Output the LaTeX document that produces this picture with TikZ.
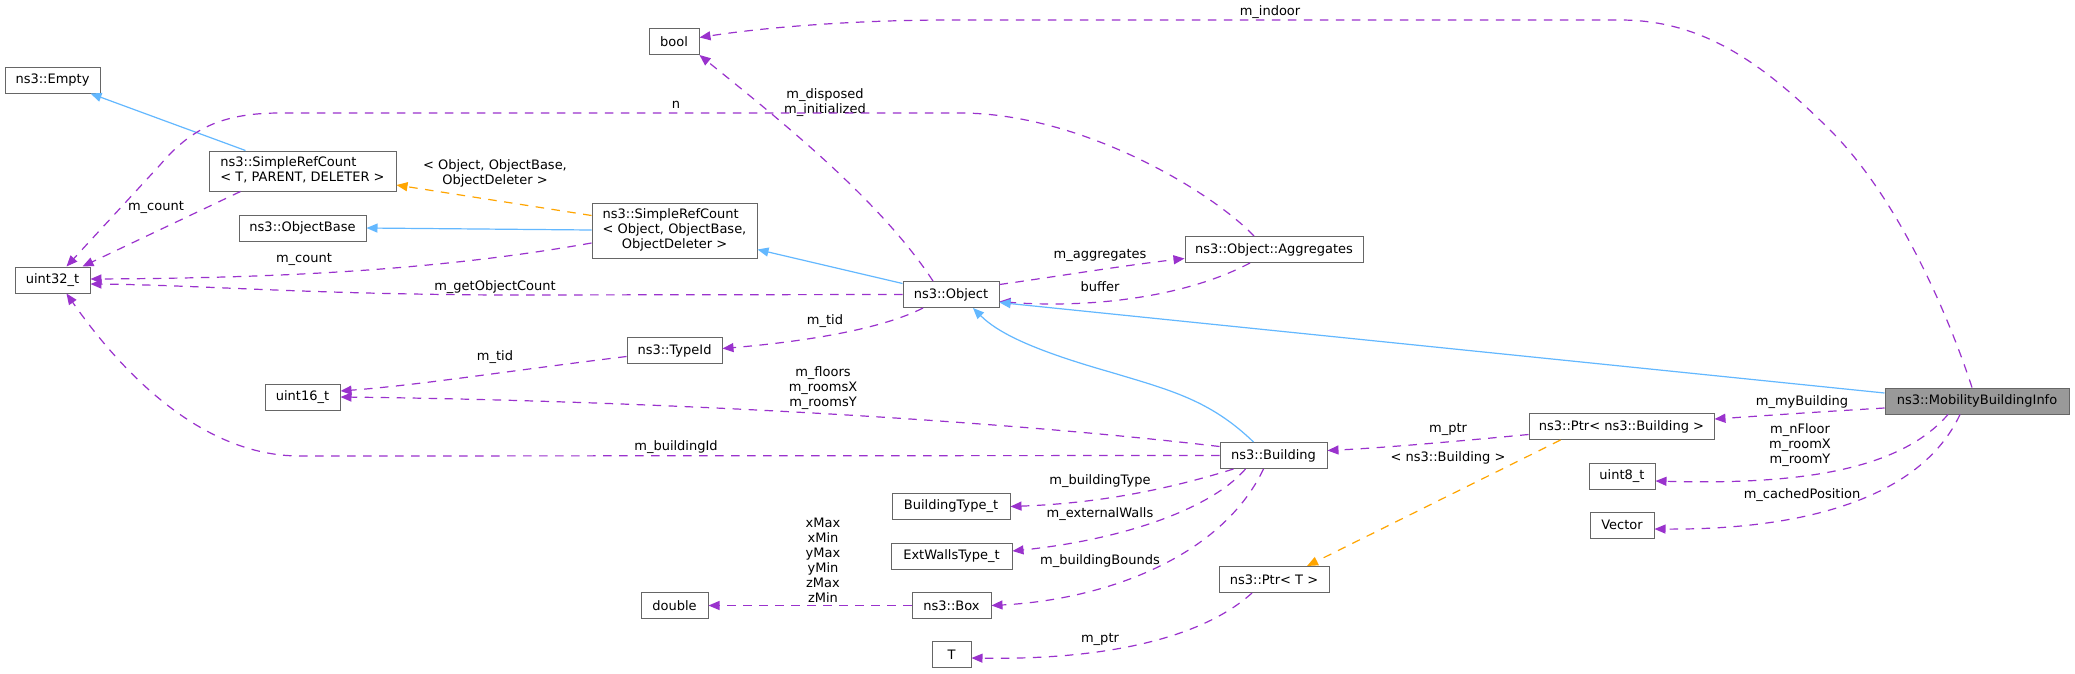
\documentclass[tikz,border=0pt]{standalone}
\usepackage{fontspec}
\setmainfont{DejaVu Sans}
\usetikzlibrary{arrows.meta}
\definecolor{edgepurple}{HTML}{9A32CD}
\definecolor{edgeblue}{HTML}{63B8FF}
\definecolor{edgeorange}{HTML}{FFA500}
\definecolor{boxgray}{HTML}{666666}
\definecolor{curfill}{HTML}{999999}
\newcommand{\leftlines}[2]{\begin{tabular}{@{}l@{}}#1\\\multicolumn{1}{@{}c@{}}{#2}\end{tabular}}
\begin{document}
\begin{tikzpicture}[x=1pt,y=-1pt,
  cls/.style={draw=boxgray, line width=1pt, fill=white, inner sep=0pt, minimum height=26pt, font=\fontsize{13}{15}\selectfont},
  member/.style={edgepurple, dash pattern=on 8.5pt off 7.5pt, line width=1.2pt, -{Triangle[length=11pt,width=9pt]}},
  inherit/.style={edgeblue, line width=1.2pt, -{Triangle[length=11pt,width=9pt]}},
  templ/.style={edgeorange, dash pattern=on 8.5pt off 7.5pt, line width=1.2pt, -{Triangle[length=11pt,width=9pt]}},
  lbl/.style={font=\fontsize{13}{15}\selectfont, align=center, inner sep=0pt}]
\fill[white] (0,0) rectangle (2075,673);
\path[use as bounding box] (0,0) rectangle (2075,673);

% nodes
\node[cls, minimum width=50pt] (bool) at (674,41.5) {bool};
\node[cls, minimum width=95pt] (empty) at (52.5,80) {ns3::Empty};
\node[cls, minimum width=187pt, minimum height=40pt] (srcT) at (302.5,171) {\leftlines{ns3::SimpleRefCount}{< T, PARENT, DELETER >}};
\node[cls, minimum width=127pt] (objbase) at (302.5,228) {ns3::ObjectBase};
\node[cls, minimum width=75pt] (uint32) at (52.5,280) {uint32\_t};
\node[cls, minimum width=165pt, minimum height=55pt] (srcO) at (674.5,230.5) {\leftlines{ns3::SimpleRefCount\\< Object, ObjectBase,}{ObjectDeleter >}};
\node[cls, minimum width=96pt] (object) at (951,294.5) {ns3::Object};
\node[cls, minimum width=178pt] (aggr) at (1274,249.5) {ns3::Object::Aggregates};
\node[cls, minimum width=95pt] (typeid) at (674.5,350.5) {ns3::TypeId};
\node[cls, minimum width=75pt] (uint16) at (302.5,397) {uint16\_t};
\node[cls, minimum width=107pt] (building) at (1273.5,455.5) {ns3::Building};
\node[cls, minimum width=118pt] (btype) at (951,506.5) {BuildingType\_t};
\node[cls, minimum width=121pt] (extwalls) at (951.5,556) {ExtWallsType\_t};
\node[cls, minimum width=67pt] (double) at (674.5,605.5) {double};
\node[cls, minimum width=79pt] (box) at (951.5,605.5) {ns3::Box};
\node[cls, minimum width=110pt] (ptrT) at (1274,579.5) {ns3::Ptr< T >};
\node[cls, minimum width=39pt] (T) at (951.5,654.5) {T};
\node[cls, minimum width=185pt] (ptrB) at (1621.5,426.5) {ns3::Ptr< ns3::Building >};
\node[cls, minimum width=184pt, fill=curfill] (mobility) at (1977,401) {ns3::MobilityBuildingInfo};
\node[cls, minimum width=66pt] (uint8) at (1622,476) {uint8\_t};
\node[cls, minimum width=64pt] (vector) at (1622,525) {Vector};

% edges
\draw[inherit] ([xshift=-57pt]srcT.north) -- ([xshift=38pt]empty.south);

\draw[member] ([xshift=-5pt]mobility.north) .. controls (1950,320) and (1900,200) .. (1830,130)
  .. controls (1760,60) and (1700,20) .. (1620,20) -- (950,20) .. controls (850,20) and (760,28) .. ([yshift=4pt]bool.east);
\node[lbl] (lindoor) at (1270,12) {m\_indoor};

\draw[member] ([xshift=-18pt]object.north) .. controls (880,200) and (780,120) .. (bool.south east);
\node[lbl] (ldisp) at (825,103) {m\_disposed\\m\_initialized};

\draw[member] ([xshift=-20pt]aggr.north) .. controls (1210,190) and (1080,113) .. (960,113) -- (280,113)
  .. controls (220,113) and (190,130) .. (160,165) -- ([xshift=14pt]uint32.north);
\node[lbl] (ln) at (676,105) {n};

\draw[member] ([xshift=-62pt]srcT.south) -- ([xshift=30pt]uint32.north);
\node[lbl] (lcount1) at (156,207) {m\_count};

\draw[templ] ([yshift=15pt]srcO.west) -- ([yshift=-14pt]srcT.east);
\node[lbl] (ltempl1) at (495,173) {< Object, ObjectBase,\\ObjectDeleter >};

\draw[inherit] ([yshift=0.5pt]srcO.west) -- (objbase.east);

\draw[member] ([yshift=-12.5pt]srcO.west) .. controls (450,268) and (300,278) .. ([yshift=1pt]uint32.east);
\node[lbl] (lcount2) at (304,259) {m\_count};

\draw[member] (object.west) -- (500,295) .. controls (300,294) and (200,285) .. ([yshift=-4pt]uint32.east);
\node[lbl] (lgoc) at (495,287) {m\_getObjectCount};

\draw[inherit] ([yshift=11pt]object.west) -- ([yshift=-19pt]srcO.east);

\draw[member] ([yshift=10pt]object.east) .. controls (1060,276) and (1120,266) .. ([yshift=-9pt]aggr.west);
\node[lbl] (laggr) at (1100,255) {m\_aggregates};

\draw[member] ([xshift=-24pt]aggr.south) .. controls (1180,300) and (1080,308) .. ([yshift=-7pt]object.east);
\node[lbl] (lbuffer) at (1100,287) {buffer};

\draw[inherit] ([xshift=-20pt]building.north) .. controls (1210,400) and (1170,390) .. (1110,372)
  .. controls (1040,352) and (1000,335) .. ([xshift=22pt]object.south);

\draw[inherit] ([yshift=8pt]mobility.west) -- ([yshift=-8pt]object.east);

\draw[member] ([xshift=-28pt]object.south) .. controls (880,330) and (800,342) .. ([yshift=2pt]typeid.east);
\node[lbl] (ltid1) at (825,321) {m\_tid};

\draw[member] ([yshift=-6pt]typeid.west) .. controls (500,372) and (420,385) .. ([yshift=6pt]uint16.east);
\node[lbl] (ltid2) at (495,357) {m\_tid};

\draw[member] ([yshift=9pt]building.west) .. controls (950,415) and (600,400) .. (uint16.east);
\node[lbl] (lfloors) at (823,388) {m\_floors\\m\_roomsX\\m\_roomsY};

\draw[member] (building.west) -- (300,456) .. controls (200,456) and (120,370) .. ([xshift=14pt]uint32.south);
\node[lbl] (lbid) at (676,447) {m\_buildingId};

\draw[member] ([xshift=-40pt]building.south) .. controls (1150,495) and (1080,504) .. (btype.east);
\node[lbl] (lbtype) at (1100,481) {m\_buildingType};

\draw[member] ([xshift=-28pt]building.south) .. controls (1210,510) and (1120,540) .. ([yshift=5pt]extwalls.east);
\node[lbl] (lext) at (1100,514) {m\_externalWalls};

\draw[member] ([xshift=-10pt]building.south) .. controls (1220,560) and (1100,600) .. (box.east);
\node[lbl] (lbounds) at (1100,561) {m\_buildingBounds};

\draw[member] (box.west) -- (double.east);
\node[lbl] (lminmax) at (823,560) {xMax\\xMin\\yMax\\yMin\\zMax\\zMin};

\draw[member] ([xshift=-22pt]ptrT.south) .. controls (1200,640) and (1100,660) .. ([yshift=-3.5pt]T.east);
\node[lbl] (lptr1) at (1100,639) {m\_ptr};

\draw[templ] ([xshift=-61pt]ptrB.south) -- ([xshift=33pt]ptrT.north);
\node[lbl] (ltempl2) at (1448,458) {< ns3::Building >};

\draw[member] ([yshift=-8pt]ptrB.west) .. controls (1450,442) and (1380,448) .. ([yshift=5pt]building.east);
\node[lbl] (lptr2) at (1448,429) {m\_ptr};

\draw[member] ([yshift=-7pt]mobility.west) .. controls (1800,413) and (1760,416) .. ([yshift=7.5pt]ptrB.east);
\node[lbl] (lmyb) at (1802,402) {m\_myBuilding};

\draw[member] ([xshift=-29pt]mobility.south) .. controls (1900,470) and (1800,485) .. ([yshift=-5pt]uint8.east);
\node[lbl] (lfloor) at (1800,445) {m\_nFloor\\m\_roomX\\m\_roomY};

\draw[member] ([xshift=-17pt]mobility.south) .. controls (1920,500) and (1800,530) .. ([yshift=-4pt]vector.east);
\node[lbl] (lcached) at (1802,495) {m\_cachedPosition};
\end{tikzpicture}
\end{document}
